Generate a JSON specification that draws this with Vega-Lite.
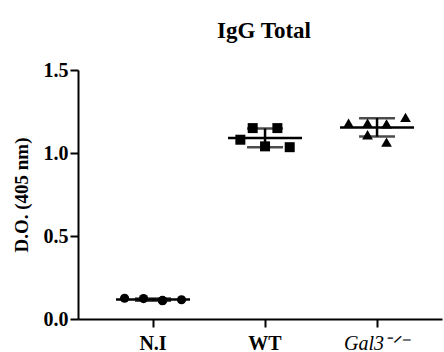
{
  "$schema": "https://vega.github.io/schema/vega-lite/v6.json",
  "width": 364,
  "height": 249,
  "autosize": "none",
  "padding": {"left": 78, "top": 70, "right": 2, "bottom": 33},
  "background": "white",
  "config": {
    "view": {"stroke": null},
    "font": "Liberation Serif",
    "axis": {
      "domainColor": "black",
      "domainWidth": 2,
      "tickColor": "black",
      "tickWidth": 2,
      "tickSize": 8,
      "grid": false,
      "labelColor": "black",
      "labelFont": "Liberation Serif",
      "labelFontSize": 20,
      "labelFontWeight": "bold",
      "titleFont": "Liberation Serif",
      "titleFontSize": 19,
      "titleFontWeight": "bold",
      "titleColor": "black"
    }
  },
  "title": {
    "text": "IgG Total",
    "font": "Liberation Serif",
    "fontSize": 23,
    "fontWeight": "bold",
    "color": "black",
    "anchor": "middle",
    "offset": 17,
    "dx": 4
  },
  "data": {
    "values": [
      {"group": "N.I", "slot": -1.5, "od": 0.125},
      {"group": "N.I", "slot": -0.5, "od": 0.123},
      {"group": "N.I", "slot": 0.5, "od": 0.110},
      {"group": "N.I", "slot": 0.5, "od": 0.112},
      {"group": "N.I", "slot": 1.5, "od": 0.116},
      {"group": "WT", "slot": -1.3, "od": 1.08},
      {"group": "WT", "slot": -0.65, "od": 1.15},
      {"group": "WT", "slot": 0, "od": 1.04},
      {"group": "WT", "slot": 0.65, "od": 1.15},
      {"group": "WT", "slot": 1.3, "od": 1.035},
      {"group": "Gal3", "slot": -1.5, "od": 1.18},
      {"group": "Gal3", "slot": -0.5, "od": 1.18},
      {"group": "Gal3", "slot": -0.5, "od": 1.11},
      {"group": "Gal3", "slot": 0.5, "od": 1.175},
      {"group": "Gal3", "slot": 0.5, "od": 1.065},
      {"group": "Gal3", "slot": 1.5, "od": 1.215}
    ]
  },
  "encoding": {
    "x": {
      "field": "group",
      "type": "nominal",
      "sort": ["N.I", "WT", "Gal3"],
      "scale": {"paddingInner": 0, "paddingOuter": 0.125, "align": 0.68},
      "axis": {
        "title": null,
        "labelAngle": 0,
        "labelPadding": 6,
        "labelExpr": "datum.value == 'Gal3' ? 'Gal3⁻ᐟ⁻' : datum.value",
        "labelFontWeight": {"condition": {"test": "datum.value == 'Gal3'", "value": "normal"}, "value": "bold"},
        "labelFontStyle": {"condition": {"test": "datum.value == 'Gal3'", "value": "italic"}, "value": "normal"}
      }
    },
    "y": {
      "field": "od",
      "type": "quantitative",
      "scale": {"domain": [0, 1.5], "nice": false, "zero": true},
      "axis": {
        "title": "D.O. (405 nm)",
        "values": [0, 0.5, 1, 1.5],
        "format": ".1f",
        "labelPadding": 2,
        "titlePadding": 12
      }
    }
  },
  "layer": [
    {
      "mark": {"type": "tick", "orient": "horizontal", "color": "black", "size": 74, "thickness": 2.5, "opacity": 1},
      "encoding": {
        "y": {"aggregate": "mean", "field": "od", "type": "quantitative"}
      }
    },
    {
      "mark": {"type": "errorbar", "extent": "stdev", "color": "black", "thickness": 2.5, "ticks": {"size": 36, "thickness": 2.5, "color": "black"}},
      "encoding": {
        "y": {"field": "od", "type": "quantitative"}
      }
    },
    {
      "mark": {"type": "point", "filled": true, "opacity": 1, "color": "black", "strokeWidth": 0},
      "encoding": {
        "xOffset": {"field": "slot", "type": "quantitative", "scale": {"domain": [-2.95, 2.95]}},
        "shape": {
          "field": "group",
          "type": "nominal",
          "scale": {"domain": ["N.I", "WT", "Gal3"], "range": ["circle", "square", "triangle-up"]},
          "legend": null
        },
        "size": {
          "field": "group",
          "type": "nominal",
          "scale": {"domain": ["N.I", "WT", "Gal3"], "range": [85, 115, 130]},
          "legend": null
        }
      }
    }
  ]
}
